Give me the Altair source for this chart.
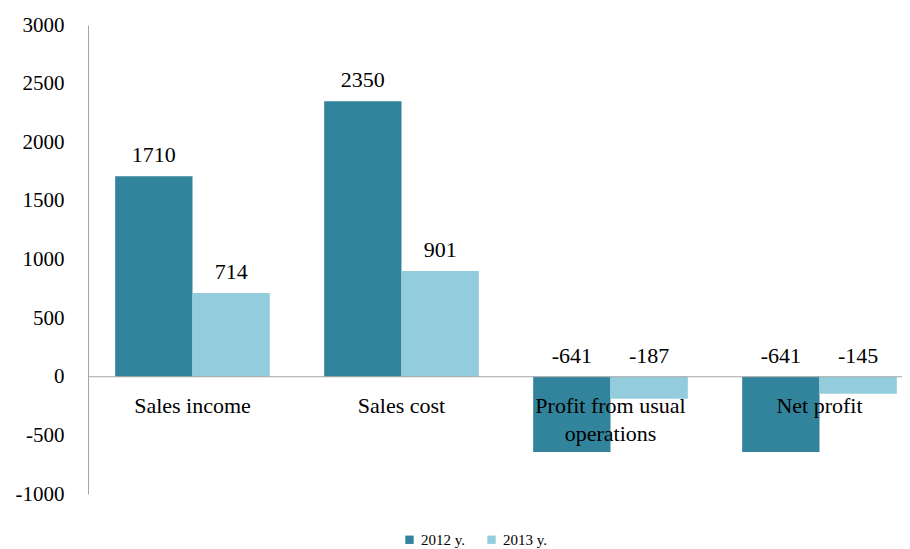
import altair as alt
import pandas as pd

categories = ["Sales income", "Sales cost", "Profit from usual operations", "Net profit"]
cat_labels = ["Sales income", "Sales cost", "Profit from usual\noperations", "Net profit"]
years = ["2012 y.", "2013 y."]
v2012 = [1710, 2350, -641, -641]
v2013 = [714, 901, -187, -145]
y_ticks = [-1000, -500, 0, 500, 1000, 1500, 2000, 2500, 3000]
colors = ["#31849B", "#93CDDD"]

rows = []
for c, a, b in zip(categories, v2012, v2013):
    rows.append({"cat": c, "year": years[0], "value": a})
    rows.append({"cat": c, "year": years[1], "value": b})
df = pd.DataFrame(rows)
df["label_y"] = df["value"].clip(lower=0)
df["label"] = df["value"].astype(str)

cat_df = pd.DataFrame({"cat": categories, "label": cat_labels})

FONT = "Times New Roman, Liberation Serif, serif"
xscale = alt.Scale(domain=categories, range=[0, 836], paddingInner=0.26, paddingOuter=0.13)
yscale = alt.Scale(domain=[-1000, 3000], nice=False, zero=False)
offscale = alt.Scale(domain=years, paddingInner=0, paddingOuter=0)

base = alt.Chart(df)

bars = base.mark_bar().encode(
    x=alt.X("cat:N", scale=xscale, axis=None, sort=categories),
    xOffset=alt.XOffset("year:N", scale=offscale, sort=years),
    y=alt.Y("value:Q", scale=yscale,
            axis=alt.Axis(values=y_ticks, ticks=False, grid=False, domainColor="#A6A6A6",
                          labelFont=FONT, labelFontSize=21, labelColor="#000000",
                          labelExpr="'' + datum.value",
                          labelPadding=24, title=None)),
    color=alt.Color("year:N", scale=alt.Scale(domain=years, range=colors),
                    legend=alt.Legend(orient="none", legendX=314, legendY=507,
                                      direction="horizontal", title=None,
                                      symbolType="square", symbolSize=70,
                                      symbolStrokeWidth=0,
                                      labelFont=FONT, labelFontSize=15,
                                      labelColor="#000000", columnPadding=18)),
)

zero_rule = alt.Chart(pd.DataFrame({"y": [0]})).mark_rule(color="#A6A6A6", strokeWidth=1).encode(
    y=alt.Y("y:Q", scale=yscale),
    x=alt.value(0),
    x2=alt.value(836),
)

value_text = base.mark_text(font=FONT, fontSize=22, color="#000000", baseline="middle", dy=-21).encode(
    x=alt.X("cat:N", scale=xscale, sort=categories),
    xOffset=alt.XOffset("year:N", scale=offscale, sort=years),
    y=alt.Y("label_y:Q", scale=yscale),
    text="label:N",
)

cat_text = alt.Chart(cat_df).mark_text(font=FONT, fontSize=22, color="#000000", baseline="top",
                                       dy=19, lineBreak="\n", lineHeight=28).encode(
    x=alt.X("cat:N", scale=xscale, sort=categories),
    y=alt.YDatum(0),
    text="label:N",
)

chart = alt.layer(bars, zero_rule, value_text, cat_text).properties(
    width=814, height=469,
    padding={"left": 80, "top": 17, "right": 0, "bottom": 56},
    autosize="none",
).configure_view(stroke=None)

chart.save("out.html", embed_options={"renderer": "svg", "actions": False})
